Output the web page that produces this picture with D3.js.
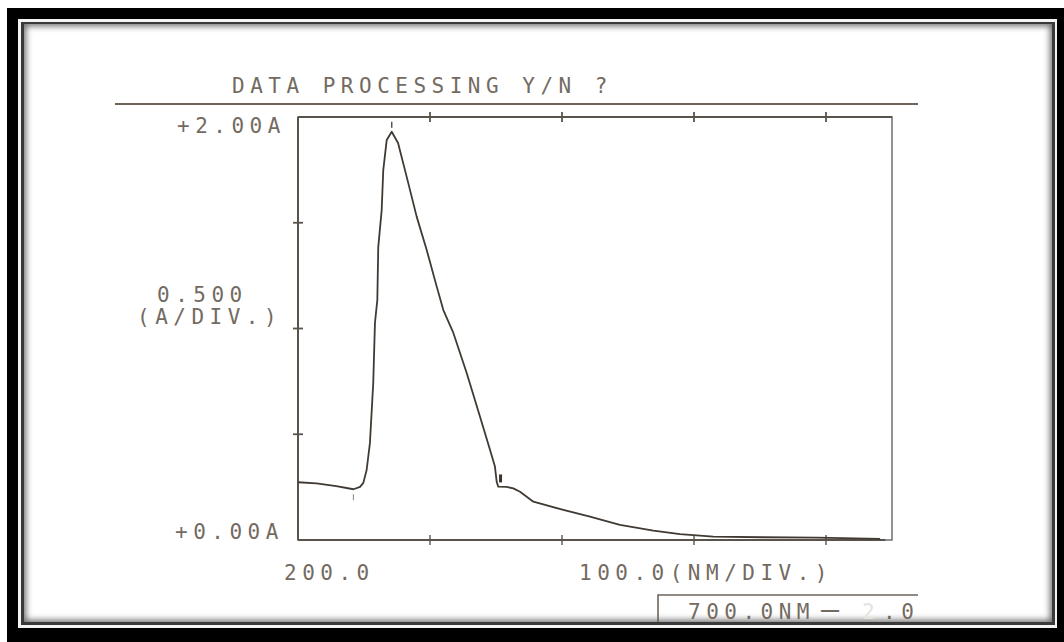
<html>
<head>
<title>Spectrum printout</title>
<script src="https://d3js.org/d3.v7.min.js"></script>
</head>
<style>
  body { margin: 0; background: #fff; }
  text { font-family: "DejaVu Sans Mono", monospace; font-size: 21px; fill: #736b61; letter-spacing: 5.5px; }
</style>
<body>

<svg id="chart_svg" width="1064" height="642"></svg>

<script>
// wavelength (nm) and absorbance (A)
var wavelength = [200, 214, 229, 242, 247, 249.5, 252, 254.5, 257, 258.3, 260.1, 260.8, 263.4, 264.6, 267.2, 271,
                  275.8, 282.3, 289.9, 297.5, 305.1, 310.1, 317.7, 327.8, 337.9, 345.5, 349.2, 350.5, 351.7,
                  358.1, 363.1, 368.2, 378.3, 401, 421.2, 443.9, 469.2, 489.4, 514.6, 552.5, 593, 641];
var absorbance = [0.273, 0.268, 0.255, 0.240, 0.251, 0.270, 0.331, 0.459, 0.742, 1.026, 1.135, 1.385, 1.560, 1.749, 1.891, 1.930,
                  1.877, 1.718, 1.529, 1.371, 1.198, 1.087, 0.979, 0.790, 0.583, 0.426, 0.347, 0.276, 0.252,
                  0.251, 0.244, 0.228, 0.181, 0.142, 0.110, 0.071, 0.044, 0.028, 0.016, 0.013, 0.011, 0.005];

// pen marks the plotter left at peak / valley / shoulder
var peakMarkNm = [271];
var valleyMarkNm = [242];
var shoulderMarkNm = [350.8];

var yTickValues = [0.5, 1.0, 1.5];
var xTickValues = [300, 400, 500, 600];

var titleText = "DATA PROCESSING Y/N ?";
var yTopLabel = "+2.00A";
var yBottomLabel = "+0.00A";
var yScaleLabel = ["0.500", "(A/DIV.)"];
var xStartLabel = "200.0";
var xScaleLabel = "100.0(NM/DIV.)";
var rangeLabel = ["700.0NM", "—", "2", ".0"];

var svg = d3.select("#chart_svg");

// ---- photo frame ----
var defs = svg.append("defs");
var blur = defs.append("filter").attr("id", "soft").attr("x", "-5%").attr("y", "-5%").attr("width", "110%").attr("height", "110%");
blur.append("feGaussianBlur").attr("stdDeviation", 3);
defs.append("clipPath").attr("id", "inner")
  .append("rect").attr("x", 24).attr("y", 24).attr("width", 1028).attr("height", 598);

svg.append("rect").attr("x", 7).attr("y", 8).attr("width", 1057).attr("height", 634).attr("fill", "#000");
svg.append("rect").attr("x", 18).attr("y", 19).attr("width", 1039).attr("height", 609).attr("fill", "#f4f4f4");
svg.append("rect").attr("x", 21).attr("y", 22).attr("width", 1034).attr("height", 603).attr("fill", "#3a3a3a");
svg.append("rect").attr("x", 24).attr("y", 24).attr("width", 1028).attr("height", 598).attr("fill", "#fff");
// inner shadow
svg.append("rect").attr("x", 22).attr("y", 22).attr("width", 1032).attr("height", 602)
  .attr("fill", "none").attr("stroke", "#6a6a6a").attr("stroke-width", 8)
  .attr("filter", "url(#soft)").attr("clip-path", "url(#inner)");

// ---- scales ----
var x = d3.scaleLinear().domain([200, 650]).range([298, 892]);
var y = d3.scaleLinear().domain([0, 2]).range([540, 117]);

var ink = "#5a534b";

// title + rule
svg.append("text").attr("x", 232).attr("y", 93).text(titleText);
svg.append("line").attr("x1", 115).attr("x2", 918).attr("y1", 104).attr("y2", 104)
  .attr("stroke", "#6d655b").attr("stroke-width", 2.2);

// plot box
svg.append("rect")
  .attr("x", x(200)).attr("y", y(2))
  .attr("width", x(650) - x(200)).attr("height", y(0) - y(2))
  .attr("fill", "none").attr("stroke", "#6e6e6e").attr("stroke-width", 1.5);
svg.append("line").attr("x1", x(200)).attr("x2", x(650)).attr("y1", y(2)).attr("y2", y(2))
  .attr("stroke", ink).attr("stroke-width", 2);
svg.append("line").attr("x1", x(200)).attr("x2", x(200)).attr("y1", y(2)).attr("y2", y(0))
  .attr("stroke", ink).attr("stroke-width", 2);
svg.append("line").attr("x1", x(200)).attr("x2", x(645)).attr("y1", y(0)).attr("y2", y(0))
  .attr("stroke", ink).attr("stroke-width", 1.8);

// ticks crossing the axes
svg.selectAll("line.ytick").data(yTickValues).enter().append("line")
  .attr("class", "ytick")
  .attr("x1", x(200) - 5).attr("x2", x(200) + 5)
  .attr("y1", function (d) { return y(d); }).attr("y2", function (d) { return y(d); })
  .attr("stroke", ink).attr("stroke-width", 1.8);

svg.selectAll("line.xtickTop").data(xTickValues).enter().append("line")
  .attr("class", "xtickTop")
  .attr("x1", function (d) { return x(d); }).attr("x2", function (d) { return x(d); })
  .attr("y1", y(2) - 5).attr("y2", y(2) + 5)
  .attr("stroke", ink).attr("stroke-width", 1.8);

svg.selectAll("line.xtickBottom").data(xTickValues).enter().append("line")
  .attr("class", "xtickBottom")
  .attr("x1", function (d) { return x(d); }).attr("x2", function (d) { return x(d); })
  .attr("y1", y(0) - 5).attr("y2", y(0) + 5)
  .attr("stroke", ink).attr("stroke-width", 1.4);

// spectrum
var points = wavelength.map(function (d, i) { return [d, absorbance[i]]; });
var lineGen = d3.line()
  .x(function (d) { return x(d[0]); })
  .y(function (d) { return y(d[1]); });

svg.append("path")
  .datum(points)
  .attr("d", lineGen)
  .attr("fill", "none")
  .attr("stroke", "#403a33")
  .attr("stroke-width", 1.8)
  .attr("stroke-linejoin", "round");

// pen marks
svg.selectAll("line.peak").data(peakMarkNm).enter().append("line")
  .attr("class", "peak")
  .attr("x1", function (d) { return x(d); }).attr("x2", function (d) { return x(d); })
  .attr("y1", y(1.93) - 10).attr("y2", y(1.93) - 4)
  .attr("stroke", ink).attr("stroke-width", 1.5);
svg.selectAll("line.valley").data(valleyMarkNm).enter().append("line")
  .attr("class", "valley")
  .attr("x1", function (d) { return x(d); }).attr("x2", function (d) { return x(d); })
  .attr("y1", y(0.24) + 5).attr("y2", y(0.24) + 11)
  .attr("stroke", "#9a938a").attr("stroke-width", 1.2);
svg.selectAll("rect.shoulder").data(shoulderMarkNm).enter().append("rect")
  .attr("class", "shoulder")
  .attr("x", function (d) { return x(d) + 2; }).attr("y", y(0.31))
  .attr("width", 3).attr("height", 8)
  .attr("fill", "#3a342e");

// axis labels
svg.append("text").attr("x", 177).attr("y", 133).text(yTopLabel);
svg.append("text").attr("x", 175).attr("y", 539).text(yBottomLabel);
svg.append("text").attr("x", 157).attr("y", 302).text(yScaleLabel[0]);
svg.append("text").attr("x", 137).attr("y", 324).text(yScaleLabel[1]);
svg.append("text").attr("x", 284).attr("y", 580).text(xStartLabel);
svg.append("text").attr("x", 579).attr("y", 580).text(xScaleLabel);

// range box at the bottom
svg.append("path")
  .attr("d", "M658,622 V595 H918")
  .attr("fill", "none").attr("stroke", "#6d655b").attr("stroke-width", 1.6);
svg.append("text").attr("x", 688).attr("y", 619).text(rangeLabel[0]);
svg.append("text").attr("x", 821).attr("y", 619).text(rangeLabel[1])
  .style("letter-spacing", "0px").style("font-size", "30px");
svg.append("text").attr("x", 862).attr("y", 619).text(rangeLabel[2]).style("fill", "#e6e2dc");
svg.append("text").attr("x", 883).attr("y", 619).text(rangeLabel[3]);
</script>

</body>
</html>
